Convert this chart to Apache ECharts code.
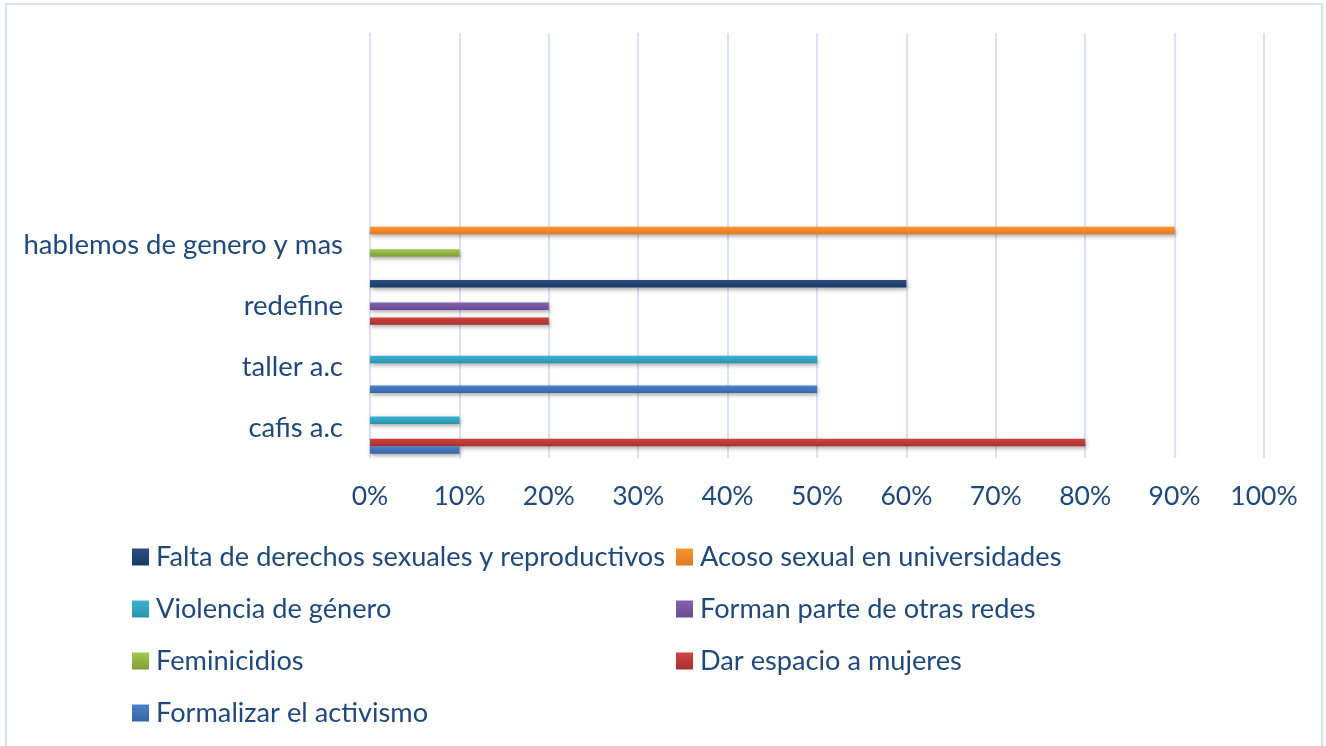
<!DOCTYPE html>
<html>
<head>
<meta charset="utf-8">
<style>
  html, body { margin: 0; padding: 0; background: #fff; }
  #chart { width: 1326px; height: 746px; }
</style>
<script src="https://cdn.jsdelivr.net/npm/echarts@6/dist/echarts.min.js"></script>
</head>
<body>
<div id="chart"></div>
<script>
// categorias (de abajo hacia arriba), las 3 ultimas vacias como en el original
const categories = ['cafis a.c', 'taller a.c', 'redefine', 'hablemos de genero y mas', ' ', '  ', '   '];
const xTicks = [0, 10, 20, 30, 40, 50, 60, 70, 80, 90, 100];

// valores en % por categoria
const falta = [0, 0, 60, 0];
const acoso = [0, 0, 0, 90];
const violencia = [10, 50, 0, 0];
const forman = [0, 0, 20, 0];
const feminicidios = [0, 0, 0, 10];
const darEspacio = [80, 0, 20, 0];
const formalizar = [10, 50, 0, 0];

const seriesNames = [
  'Falta de derechos sexuales y reproductivos',
  'Acoso sexual en universidades',
  'Violencia de género',
  'Forman parte de otras redes',
  'Feminicidios',
  'Dar espacio a mujeres',
  'Formalizar el activismo'
];
const seriesValues = [falta, acoso, violencia, forman, feminicidios, darEspacio, formalizar];
const seriesColors = [
  ['#2A4D80', '#1B3A66'],
  ['#FA9433', '#E07820'],
  ['#3BB3D3', '#2A93AD'],
  ['#8463AE', '#6A4B93'],
  ['#A2C64E', '#7FA038'],
  ['#D2423F', '#A8302E'],
  ['#4A82CB', '#3565A8']
];

const textColor = '#1F497D';
const font = 'Lato';

const chart = echarts.init(document.getElementById('chart'));

const grad = c => new echarts.graphic.LinearGradient(0, 0, 0, 1, [
  { offset: 0, color: c[0] },
  { offset: 1, color: c[1] }
]);

const series = seriesNames.map((name, i) => ({
  name,
  type: 'bar',
  data: seriesValues[i],
  barGap: '0%',
  barCategoryGap: '14%',
  itemStyle: {
    color: grad(seriesColors[i]),
    shadowColor: 'rgba(0,0,0,0.35)',
    shadowBlur: 4,
    shadowOffsetY: 2,
    shadowOffsetX: 1
  }
}));

const legendText = { color: textColor, fontFamily: font, fontSize: 27.2, lineHeight: 30, padding: [0, 0, 0, 2] };

chart.setOption({
  animation: false,
  backgroundColor: '#fff',
  textStyle: { fontFamily: font },
  graphic: [{
    type: 'rect',
    shape: { x: 6, y: 4, width: 1316, height: 780 },
    style: { fill: 'none', stroke: '#D6E1F2', lineWidth: 2 },
    silent: true
  }],
  grid: { left: 370, right: 62, top: 33, bottom: 288 },
  legend: [
    {
      orient: 'vertical',
      left: 132,
      top: 542,
      padding: 0,
      icon: 'rect',
      itemWidth: 17,
      itemHeight: 17,
      itemGap: 22,
      textStyle: legendText,
      data: [seriesNames[0], seriesNames[2], seriesNames[4], seriesNames[6]]
    },
    {
      orient: 'vertical',
      left: 676,
      top: 542,
      padding: 0,
      icon: 'rect',
      itemWidth: 17,
      itemHeight: 17,
      itemGap: 22,
      textStyle: legendText,
      data: [seriesNames[1], seriesNames[3], seriesNames[5]]
    }
  ],
  xAxis: {
    type: 'value',
    min: xTicks[0],
    max: xTicks[xTicks.length - 1],
    interval: 10,
    axisLine: { show: false },
    axisTick: { show: false },
    axisLabel: {
      formatter: '{value}%',
      color: textColor,
      fontFamily: font,
      fontSize: 26.5,
      margin: 25
    },
    splitLine: { lineStyle: { color: '#D9E3F3', width: 2 } }
  },
  yAxis: {
    type: 'category',
    data: categories,
    axisLine: { show: false },
    axisTick: { show: false },
    axisLabel: {
      color: textColor,
      fontFamily: font,
      fontSize: 27.5,
      margin: 27
    }
  },
  series
});
</script>
</body>
</html>
